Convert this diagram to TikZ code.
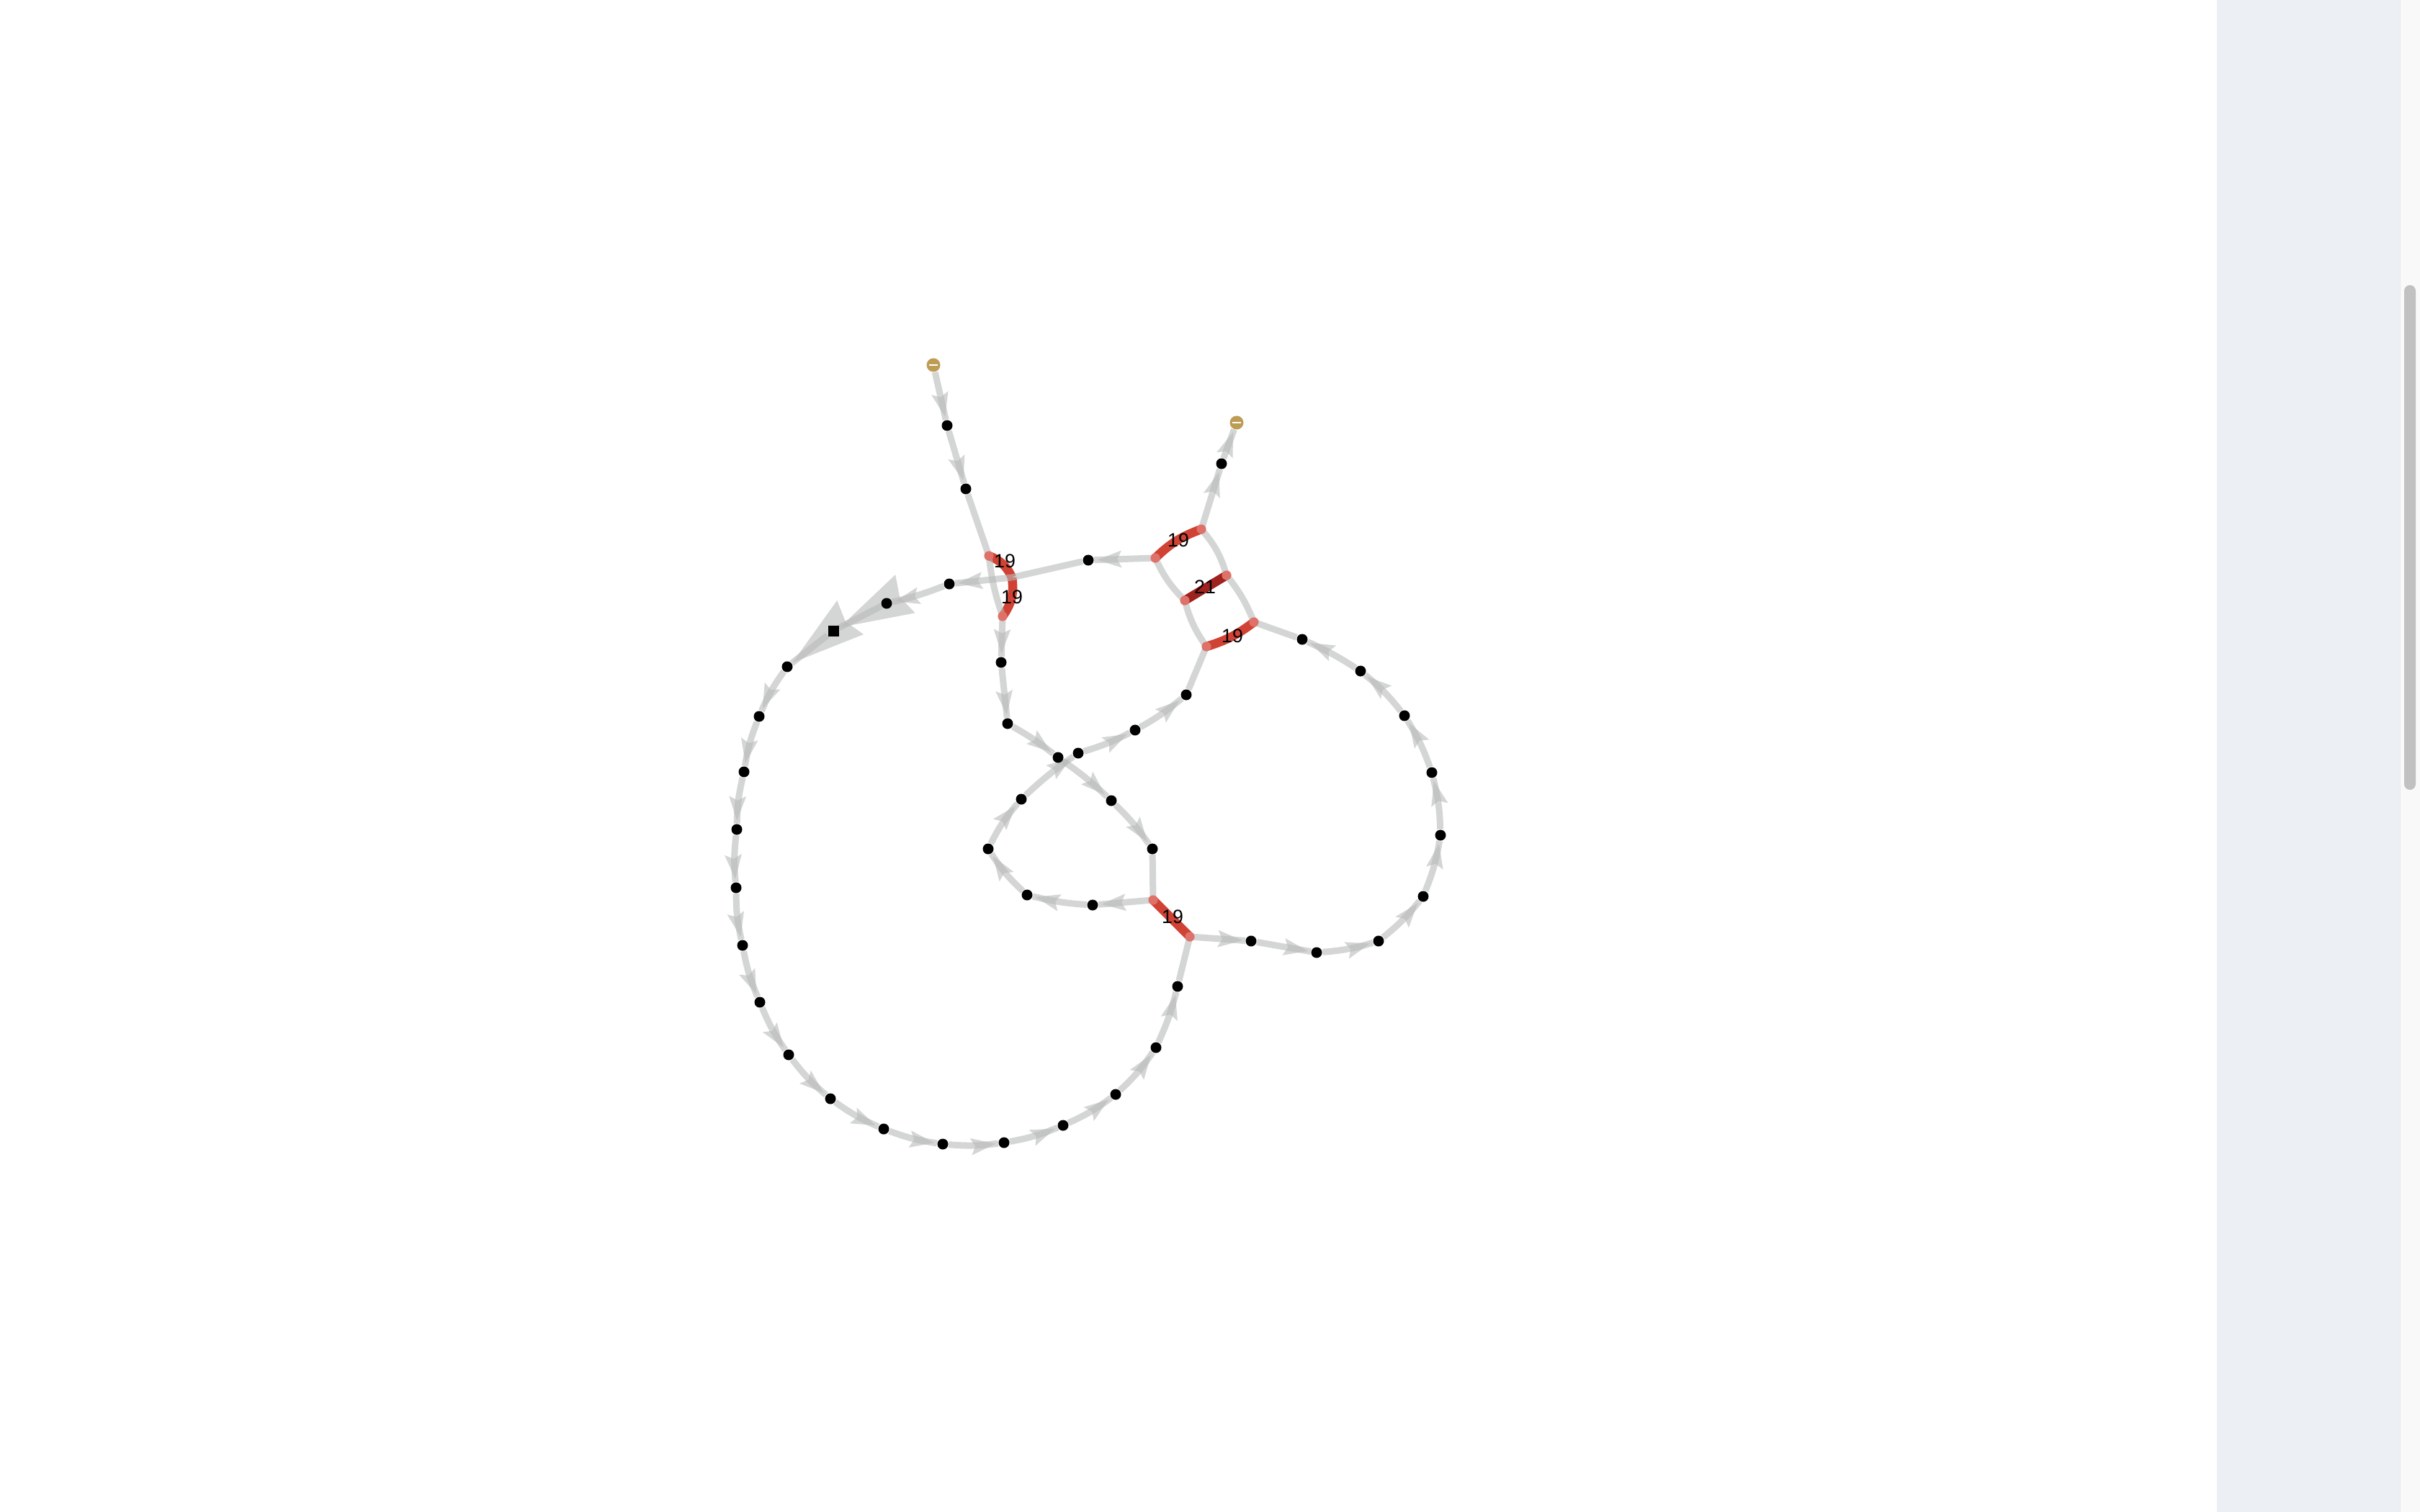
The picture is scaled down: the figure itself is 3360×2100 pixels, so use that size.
\documentclass[tikz,border=0pt]{standalone}
\usepackage{fontspec}
\setmainfont{Liberation Sans}
\usetikzlibrary{decorations.markings}
\pgfdeclarelayer{bgpanel}
\pgfdeclarelayer{edges}
\pgfsetlayers{bgpanel,edges,main}
\definecolor{edgegray}{RGB}{184,186,185}
\definecolor{bondred}{RGB}{208,66,52}
\definecolor{bonddark}{RGB}{158,34,30}
\definecolor{endpink}{RGB}{222,114,106}
\definecolor{goldnode}{RGB}{189,156,86}
\definecolor{panelbg}{RGB}{236,239,244}
\definecolor{trackbg}{RGB}{249,249,249}
\definecolor{trackline}{RGB}{232,232,232}
\definecolor{thumbgray}{RGB}{193,193,193}
\tikzset{
  dot/.style={circle, fill=black, inner sep=0pt, minimum size=0.15cm},
  sqnode/.style={rectangle, fill=black, inner sep=0pt, minimum size=0.15cm},
  gold/.style={circle, fill=goldnode, inner sep=0pt, minimum size=0.19cm,
    path picture={\draw[white, line width=0.55pt]
      ([xshift=-1.7pt]path picture bounding box.center) --
      ([xshift=1.7pt]path picture bounding box.center);}},
  bb/.style={draw=edgegray, draw opacity=0.6, line width=0.09cm},
  arr/.style={bb, postaction={decorate, decoration={markings,
    mark=at position -0.04cm with {\fill[edgegray, fill opacity=0.6]
      (0pt,0pt) -- (-9.7pt,3.4pt) -- (-8pt,0pt) -- (-9.7pt,-3.4pt) -- cycle;}}}},
  bigarr/.style={bb, postaction={decorate, decoration={markings,
    mark=at position -0.01cm with {\fill[edgegray, fill opacity=0.6]
      (0pt,0pt) -- (-29pt,8.5pt) -- (-26.5pt,0pt) -- (-29pt,-8.5pt) -- cycle;}}}},
  bond/.style={draw=bondred, line width=0.125cm},
  bonddk/.style={draw=bonddark, line width=0.125cm},
  bondend/.style={fill=endpink},
  lbl/.style={inner sep=0pt, font=\fontsize{7.6pt}{8pt}\selectfont, text=black}
}
\begin{document}
\begin{tikzpicture}[x=0.01cm,y=-0.01cm]
\useasboundingbox (0,0) rectangle (3360,2100);
\begin{pgfonlayer}{bgpanel}
\fill[white] (0,0) rectangle (3360,2100);
% side panel and scrollbar
\fill[panelbg] (3078,0) rectangle (3332,2100);
\fill[trackbg] (3332,0) rectangle (3360,2100);
\draw[trackline, line width=0.01cm] (3332,0) -- (3332,2100);
\fill[thumbgray, rounded corners=0.08cm] (3338,396) rectangle (3354,1097);
\end{pgfonlayer}

% junction points
\coordinate (R1a) at (1373,772);
\coordinate (J) at (1405,802);
\coordinate (R1c) at (1392,856);
\coordinate (Q1) at (1601,1250);
\coordinate (Q2) at (1652,1301);
\coordinate (P1) at (1604,775);
\coordinate (P2) at (1668,735);
\coordinate (P3) at (1703,799);
\coordinate (P4) at (1645,834);
\coordinate (P5) at (1741,864);
\coordinate (P6) at (1675,898);

% nodes
\node[gold] (G1) at (1296,507) {};
\node[gold] (G2) at (1717,587) {};
\node[dot] (A1) at (1315,591) {};
\node[dot] (A2) at (1341,679) {};
\node[dot] (D) at (1390,920) {};
\node[dot] (D2) at (1399,1005) {};
\node[dot] (X1) at (1469,1052) {};
\node[dot] (X2) at (1497,1046) {};
\node[dot] (X3) at (1576,1014) {};
\node[dot] (X4) at (1647,965) {};
\node[dot] (Y1) at (1418,1110) {};
\node[dot] (Z1) at (1543,1112) {};
\node[dot] (Z2) at (1600,1179) {};
\node[dot] (M1) at (1517,1257) {};
\node[dot] (M2) at (1426,1243) {};
\node[dot] (M3) at (1372,1179) {};
\node[dot] (R1) at (1737,1307) {};
\node[dot] (R2) at (1828,1323) {};
\node[dot] (R3) at (1914,1307) {};
\node[dot] (R4) at (1976,1245) {};
\node[dot] (R5) at (2000,1160) {};
\node[dot] (S3) at (1988,1073) {};
\node[dot] (S2) at (1950,994) {};
\node[dot] (S1) at (1889,932) {};
\node[dot] (E) at (1808,888) {};
\node[dot] (F) at (1696,644) {};
\node[dot] (B) at (1511,778) {};
\node[dot] (C) at (1318,811) {};
\node[dot] (H1) at (1231,838) {};
\node[sqnode] (SQ) at (1157,876) {};
\node[dot] (L1) at (1093,926) {};
\node[dot] (L2) at (1054,995) {};
\node[dot] (L3) at (1033,1072) {};
\node[dot] (L4) at (1023,1152) {};
\node[dot] (L5) at (1022,1233) {};
\node[dot] (L6) at (1031,1313) {};
\node[dot] (L7) at (1055,1392) {};
\node[dot] (L8) at (1095,1465) {};
\node[dot] (L9) at (1153,1526) {};
\node[dot] (L10) at (1227,1568) {};
\node[dot] (L11) at (1309,1589) {};
\node[dot] (L12) at (1394,1587) {};
\node[dot] (L13) at (1476,1563) {};
\node[dot] (L14) at (1549,1520) {};
\node[dot] (L15) at (1605,1455) {};
\node[dot] (L16) at (1635,1370) {};

\begin{pgfonlayer}{edges}
% bonds
\draw[bond] (R1a) to[bend left=22] (J);
\draw[bond] (J) to[bend left=22] (R1c);
\draw[bond] (P1) to[bend left=12] (P2);
\draw[bonddk] (P4) -- (P3);
\draw[bond] (P6) to[bend right=10] (P5);
\draw[bond] (Q1) -- (Q2);
% backbone
\draw[arr] (G1) -- (A1);
\draw[arr] (A1) -- (A2);
\draw[bb] (A2) -- (R1a);
\draw[bb] (R1a) to[bend right=6] (R1c);
\draw[arr] (R1c) -- (D);
\draw[arr] (D) -- (D2);
\draw[arr] (D2) to[bend left=4] (X1);
\draw[arr] (X1) to[bend left=4] (Z1);
\draw[arr] (Z1) to[bend left=5] (Z2);
\draw[bb] (Z2) -- (Q1);
\draw[arr] (Q1) -- (M1);
\draw[arr] (M1) to[bend left=5] (M2);
\draw[arr] (M2) to[bend left=7] (M3);
\draw[arr] (M3) to[bend left=7] (Y1);
\draw[arr] (Y1) to[bend left=4] (X2);
\draw[arr] (X2) to[bend right=5] (X3);
\draw[arr] (X3) to[bend right=5] (X4);
\draw[bb] (X4) -- (P6);
\draw[bb] (P1) to[bend right=10] (P4);
\draw[bb] (P4) to[bend right=10] (P6);
\draw[bb] (P2) to[bend left=12] (P3);
\draw[bb] (P3) to[bend left=8] (P5);
\draw[bb] (E) -- (P5);
\draw[arr] (P2) -- (F);
\draw[arr] (F) -- (G2);
\draw[arr] (P1) -- (B);
\draw[bb] (B) -- (J);
\draw[arr] (J) -- (C);
\draw[arr] (C) to[bend left=4] (H1);
\draw[bigarr] (H1) -- (SQ);
\draw[bigarr] (SQ) -- (L1);
\draw[arr] (L1) to[bend right=6] (L2);
\draw[arr] (L2) to[bend right=6] (L3);
\draw[arr] (L3) to[bend right=6] (L4);
\draw[arr] (L4) to[bend right=6] (L5);
\draw[arr] (L5) to[bend right=6] (L6);
\draw[arr] (L6) to[bend right=6] (L7);
\draw[arr] (L7) to[bend right=6] (L8);
\draw[arr] (L8) to[bend right=6] (L9);
\draw[arr] (L9) to[bend right=6] (L10);
\draw[arr] (L10) to[bend right=6] (L11);
\draw[arr] (L11) to[bend right=6] (L12);
\draw[arr] (L12) to[bend right=6] (L13);
\draw[arr] (L13) to[bend right=6] (L14);
\draw[arr] (L14) to[bend right=6] (L15);
\draw[arr] (L15) to[bend right=5] (L16);
\draw[bb] (L16) -- (Q2);
\draw[arr] (Q2) -- (R1);
\draw[arr] (R1) -- (R2);
\draw[arr] (R2) to[bend right=6] (R3);
\draw[arr] (R3) to[bend right=6] (R4);
\draw[arr] (R4) to[bend right=6] (R5);
\draw[arr] (R5) to[bend right=6] (S3);
\draw[arr] (S3) to[bend right=6] (S2);
\draw[arr] (S2) to[bend right=6] (S1);
\draw[arr] (S1) to[bend right=4] (E);
\end{pgfonlayer}

% bond ends
\foreach \p in {R1a,R1c,Q1,Q2,P1,P2,P3,P4,P5,P6}
  \fill[bondend] (\p) circle[radius=0.066cm];

% labels
\node[lbl] (lb1) at (1395,779) {19};
\node[lbl] (lb2) at (1405,829) {19};
\node[lbl] (lb3) at (1636,750) {19};
\node[lbl] (lb4) at (1673,815) {21};
\node[lbl] (lb5) at (1711,883) {19};
\node[lbl] (lb6) at (1628,1273) {19};
\end{tikzpicture}
\end{document}
